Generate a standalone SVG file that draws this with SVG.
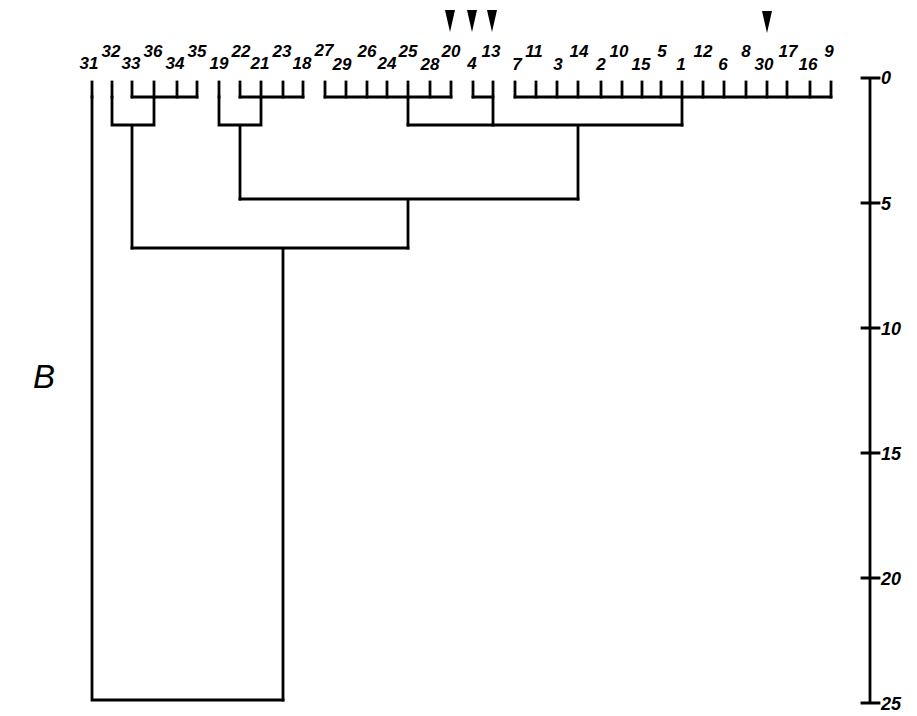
<svg xmlns="http://www.w3.org/2000/svg" width="917" height="716" viewBox="0 0 917 716">
<style>
.lb{font-family:"Liberation Sans",Arial,sans-serif;font-size:17px;font-style:italic;font-weight:bold;fill:#000;text-anchor:middle}
.ax{font-family:"Liberation Sans",Arial,sans-serif;font-size:18px;font-style:italic;font-weight:bold;fill:#000}
.ln{fill:none;stroke:#000;stroke-width:2.8;stroke-linecap:square;stroke-linejoin:miter}
.ar{fill:#000}
</style>
<rect width="917" height="716" fill="#fff"/>
<text x="33" y="388" font-family="'Liberation Sans',Arial,sans-serif" font-size="33" font-style="italic" fill="#000">B</text>
<g id="leaves">
<g id="leaf-31"><text class="lb" x="89" y="69">31</text><path class="ln" d="M92 82V97"/></g>
<g id="leaf-32"><text class="lb" x="111" y="57">32</text><path class="ln" d="M112 82V97"/></g>
<g id="leaf-33"><text class="lb" x="131" y="69">33</text><path class="ln" d="M132 82V97"/></g>
<g id="leaf-36"><text class="lb" x="153" y="57">36</text><path class="ln" d="M154 82V97"/></g>
<g id="leaf-34"><text class="lb" x="175" y="69">34</text><path class="ln" d="M177 82V97"/></g>
<g id="leaf-35"><text class="lb" x="197" y="57">35</text><path class="ln" d="M197 82V97"/></g>
<g id="leaf-19"><text class="lb" x="219" y="69">19</text><path class="ln" d="M219 82V97"/></g>
<g id="leaf-22"><text class="lb" x="241" y="57">22</text><path class="ln" d="M240 82V97"/></g>
<g id="leaf-21"><text class="lb" x="260" y="69">21</text><path class="ln" d="M261 82V97"/></g>
<g id="leaf-23"><text class="lb" x="282" y="57">23</text><path class="ln" d="M283 82V97"/></g>
<g id="leaf-18"><text class="lb" x="302" y="69">18</text><path class="ln" d="M303 82V97"/></g>
<g id="leaf-27"><text class="lb" x="324" y="56">27</text><path class="ln" d="M325 82V97"/></g>
<g id="leaf-29"><text class="lb" x="342" y="70">29</text><path class="ln" d="M346 82V97"/></g>
<g id="leaf-26"><text class="lb" x="367" y="57">26</text><path class="ln" d="M367 82V97"/></g>
<g id="leaf-24"><text class="lb" x="387" y="69">24</text><path class="ln" d="M387 82V97"/></g>
<g id="leaf-25"><text class="lb" x="408" y="57">25</text><path class="ln" d="M408 82V97"/></g>
<g id="leaf-28"><text class="lb" x="430" y="70">28</text><path class="ln" d="M430 82V97"/></g>
<g id="leaf-20"><text class="lb" x="451" y="57">20</text><path class="ln" d="M451 82V97"/></g>
<g id="leaf-4"><text class="lb" x="472" y="69">4</text><path class="ln" d="M473 82V97"/></g>
<g id="leaf-13"><text class="lb" x="491" y="57">13</text><path class="ln" d="M493 82V97"/></g>
<g id="leaf-7"><text class="lb" x="517" y="70">7</text><path class="ln" d="M515 82V97"/></g>
<g id="leaf-11"><text class="lb" x="534" y="57">11</text><path class="ln" d="M536 82V97"/></g>
<g id="leaf-3"><text class="lb" x="558" y="70">3</text><path class="ln" d="M557 82V97"/></g>
<g id="leaf-14"><text class="lb" x="579" y="57">14</text><path class="ln" d="M578 82V97"/></g>
<g id="leaf-2"><text class="lb" x="601" y="70">2</text><path class="ln" d="M601 82V97"/></g>
<g id="leaf-10"><text class="lb" x="619" y="57">10</text><path class="ln" d="M622 82V97"/></g>
<g id="leaf-15"><text class="lb" x="641" y="70">15</text><path class="ln" d="M642 82V97"/></g>
<g id="leaf-5"><text class="lb" x="662" y="57">5</text><path class="ln" d="M661 82V97"/></g>
<g id="leaf-1"><text class="lb" x="681" y="70">1</text><path class="ln" d="M682 82V97"/></g>
<g id="leaf-12"><text class="lb" x="703" y="57">12</text><path class="ln" d="M703 82V97"/></g>
<g id="leaf-6"><text class="lb" x="723" y="70">6</text><path class="ln" d="M724 82V97"/></g>
<g id="leaf-8"><text class="lb" x="746" y="57">8</text><path class="ln" d="M746 82V97"/></g>
<g id="leaf-30"><text class="lb" x="764" y="70">30</text><path class="ln" d="M767 82V97"/></g>
<g id="leaf-17"><text class="lb" x="788" y="57">17</text><path class="ln" d="M787 82V97"/></g>
<g id="leaf-16"><text class="lb" x="808" y="70">16</text><path class="ln" d="M810 82V97"/></g>
<g id="leaf-9"><text class="lb" x="829" y="57">9</text><path class="ln" d="M831 82V97"/></g>
</g>
<g id="markers">
<polygon class="ar" points="445,10 455,10 450,32"/>
<polygon class="ar" points="467,10 477,10 472,32"/>
<polygon class="ar" points="487,10 497,10 492,32"/>
<polygon class="ar" points="762,11 772,11 767,33"/>
</g>
<g id="connectors">
<path class="ln" d="M132 97H197M154 97V125M112 97V125M112 125H154M132 125V248"/>
<path class="ln" d="M240 97H303M261 97V125M219 97V125M219 125H261M240 125V199"/>
<path class="ln" d="M325 97H451M408 97V125"/>
<path class="ln" d="M473 97H493M493 97V125"/>
<path class="ln" d="M515 97H831M682 97V125"/>
<path class="ln" d="M408 125H682M578 125V199"/>
<path class="ln" d="M240 199H578M408 199V248"/>
<path class="ln" d="M132 248H408M283 248V700"/>
<path class="ln" d="M92 97V700H283"/>
</g>
<g id="axis">
<path class="ln" d="M870 78V703M862 78H879M862 203H879M862 328H879M862 453H879M862 578H879M862 703H879"/>
<text class="ax" x="881" y="84">0</text>
<text class="ax" x="881" y="210">5</text>
<text class="ax" x="881" y="335">10</text>
<text class="ax" x="881" y="460">15</text>
<text class="ax" x="881" y="585">20</text>
<text class="ax" x="881" y="710">25</text>
</g>
</svg>
